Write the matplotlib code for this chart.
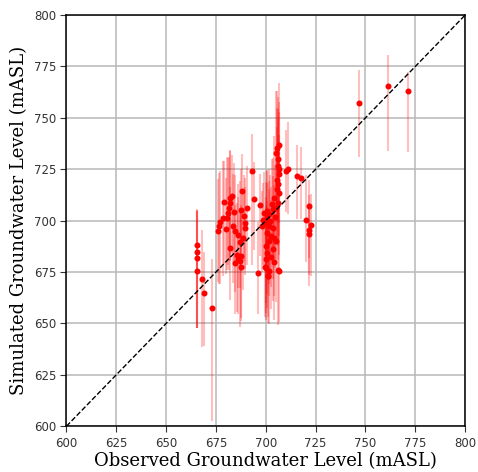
import matplotlib
matplotlib.use("Agg")
import matplotlib.pyplot as plt
import numpy as np

# observed, simulated, lower / upper error of simulated (mASL)
obs = [746.8, 761.2, 771.5,
       665.3, 665.3, 665.3, 665.3, 668.1, 669.0, 673.0,
       675.8, 676.3, 677.0, 678.3, 680.3, 681.7, 682.0, 682.3, 681.2, 680.0,
       682.3, 683.7, 684.5, 684.8, 685.7, 686.0, 687.0, 687.5, 687.0, 687.5,
       687.9, 687.4, 688.4, 689.0, 689.5, 690.4, 689.5, 683.0, 684.0, 679.0,
       686.0, 693.2, 694.1, 697.2, 697.9, 696.2,
       699.9, 701.3, 706.4, 700.8, 701.5, 703.4, 705.0, 705.9, 704.2, 706.8,
       705.5, 705.9, 705.5, 706.5, 700.8, 700.0, 701.7, 703.4, 700.8, 702.5,
       704.2, 701.7, 705.0, 700.0, 703.4, 700.8, 702.5, 700.0, 704.2, 699.5,
       701.7, 705.9, 701.2, 699.0, 698.5, 702.0, 704.5, 703.0, 706.8, 705.6,
       705.1, 706.0, 706.3, 706.8, 711.0, 710.0, 715.8, 717.8, 720.2, 721.8,
       722.7, 721.8, 721.6]
sim = [757.1, 765.7, 763.2,
       688.0, 684.7, 681.8, 675.6, 671.6, 664.8, 657.5,
       695.2, 697.2, 699.3, 701.2, 701.2, 706.1, 708.5, 710.9, 703.6, 695.9,
       686.5, 697.5, 695.2, 679.4, 683.4, 681.5, 689.4, 682.6, 680.2, 677.3,
       714.5, 705.3, 691.5, 702.3, 698.8, 706.4, 696.4, 712.0, 704.0, 709.0,
       693.0, 724.2, 710.6, 707.7, 697.2, 674.5,
       676.9, 672.9, 675.6, 704.7, 703.0, 705.5, 706.3, 708.7, 711.1, 713.5,
       715.5, 717.6, 720.0, 722.5, 702.3, 699.0, 697.4, 696.5, 694.2, 692.6,
       691.5, 690.2, 690.2, 687.7, 686.1, 684.5, 682.1, 681.3, 679.7, 677.3,
       675.6, 676.1, 673.2, 703.5, 700.5, 700.0, 702.0, 708.0, 736.9, 735.3,
       732.9, 730.0, 726.5, 725.0, 725.2, 724.0, 721.8, 720.6, 700.1, 706.9,
       698.0, 695.5, 693.4]
err_lo = [26, 32, 30,
          40, 37, 34, 28, 33, 26, 55,
          25, 28, 30, 28, 25, 30, 28, 30, 25, 22,
          25, 28, 30, 25, 28, 27, 22, 30, 32, 26,
          25, 30, 25, 22, 25, 28, 20, 28, 25, 30,
          26, 46, 25, 25, 22, 20,
          25, 20, 25, 28, 25, 27, 25, 28, 25, 30,
          26, 30, 28, 30, 28, 26, 28, 25, 30, 25,
          28, 27, 30, 28, 25, 27, 25, 26, 28, 24,
          26, 27, 23, 25, 22, 25, 25, 28, 28, 27,
          25, 28, 27, 26, 22, 20, 21, 20, 20, 25,
          25, 22, 25]
err_hi = [16, 15, 9,
          17, 20, 23, 30, 24, 20, 24,
          25, 26, 25, 28, 30, 25, 26, 23, 27, 25,
          30, 25, 27, 28, 25, 30, 30, 25, 26, 28,
          18, 20, 24, 20, 22, 20, 20, 20, 24, 20,
          25, 18, 18, 15, 17, 25,
          30, 28, 28, 20, 22, 25, 28, 30, 30, 28,
          30, 32, 35, 35, 22, 20, 22, 25, 24, 24,
          26, 25, 28, 24, 26, 25, 28, 25, 26, 27,
          28, 30, 25, 20, 18, 22, 25, 22, 30, 28,
          30, 30, 28, 28, 23, 20, 15, 15, 22, 13,
          15, 17, 15]

fig = plt.figure(figsize=(4.78, 4.72), dpi=100)
ax = fig.add_axes([0.139, 0.097, 0.834, 0.871])

ax.errorbar(obs, sim, yerr=[err_lo, err_hi], fmt='none', ecolor='red',
            alpha=0.25, elinewidth=1.5, zorder=3)
ax.plot(obs, sim, 'o', color='red', markersize=3.3, zorder=4)
ax.plot([600, 800], [600, 800], 'k--', linewidth=1, zorder=5)

ax.set_xlim(600, 800)
ax.set_ylim(600, 800)
ax.set_xticks(np.arange(600, 801, 25))
ax.set_yticks(np.arange(600, 801, 25))
ax.grid(True, color='#b8b8b8', linewidth=1.1)
ax.set_axisbelow(True)
ax.tick_params(labelsize=8.5, length=4, colors='#333333')
for s in ax.spines.values():
    s.set_linewidth(1.1)

ax.set_xlabel('Observed Groundwater Level (mASL)', family='DejaVu Serif',
              fontsize=13, labelpad=2)
ax.set_ylabel('Simulated Groundwater Level (mASL)', family='DejaVu Serif',
              fontsize=13, labelpad=4)

fig.savefig('out.png', dpi=100)
